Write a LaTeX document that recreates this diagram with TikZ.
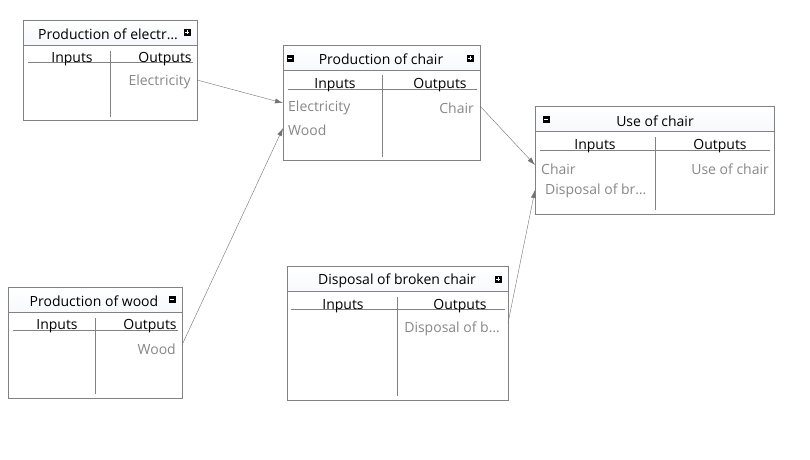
\documentclass[tikz,border=0pt]{standalone}
\usepackage{fontspec}
\setmainfont{Open Sans}
\usetikzlibrary{arrows.meta}

\definecolor{frame}{RGB}{130,130,130}
\definecolor{head}{RGB}{218,227,241}
\definecolor{item}{RGB}{135,135,135}
\definecolor{wire}{RGB}{115,115,115}

% small collapse / expand buttons in the box headers
\newcommand{\iconplus}[1]{%
  \fill (#1) +(-3.5,-3.5) rectangle +(3.5,3.5);
  \draw[white,line width=1pt] (#1) +(-2,0) -- +(2,0) +(0,-2) -- +(0,2);}
\newcommand{\iconminus}[1]{%
  \fill (#1) +(-3.5,-3.5) rectangle +(3.5,3.5);
  \draw[white,line width=1pt] (#1) +(-2,0) -- +(2,0);}

\tikzset{
  box/.style={draw=frame, anchor=north west, inner sep=0pt,
    path picture={
      \shade[top color=white, bottom color=head]
        (path picture bounding box.north west) rectangle
        ([yshift=-25pt]path picture bounding box.north east);
      \draw[frame] ([yshift=-25pt]path picture bounding box.north west) --
        ([yshift=-25pt]path picture bounding box.north east);}},
  headtext/.style={font=\fontsize{14}{16}\selectfont, text=black, inner sep=0pt, yshift=-1pt},
  colhead/.style={font=\fontsize{14}{16}\selectfont, text=black, inner sep=0pt, yshift=-2pt},
  entry/.style={font=\fontsize{14}{16}\selectfont, text=item, inner sep=0pt, yshift=-2pt},
  wire/.style={draw=wire, -{Latex[length=8pt,width=5pt]}}
}

\begin{document}
\begin{tikzpicture}[x=1pt, y=-1pt]
  \useasboundingbox (0,0) rectangle (810,459);

  % production of electricity
  \node[box, minimum width=174pt, minimum height=100pt] (pe) at (23,20) {};
  \node[headtext] (peT) at (108,33) {Production of electr…};
  \iconplus{187,32}
  \draw[frame] (110,51) -- (110,117);
  \draw[frame] (28,62) -- (193,62);
  \node[colhead] (peIn)  at (72,57)  {Inputs};
  \node[colhead] (peOut) at (165,57) {Outputs};
  \node[entry, anchor=east] (peO1) at (191,80) {Electricity};
  \coordinate (peP1) at (197,80);

  % production of chair
  \node[box, minimum width=197pt, minimum height=115pt] (pc) at (283,45) {};
  \node[headtext] (pcT) at (381,58) {Production of chair};
  \iconminus{290,58}
  \iconplus{470,58}
  \draw[frame] (382,75) -- (382,157);
  \draw[frame] (288,89) -- (477,89);
  \node[colhead] (pcIn)  at (335,83) {Inputs};
  \node[colhead] (pcOut) at (440,83) {Outputs};
  \node[entry, anchor=west] (pcI1) at (288,106) {Electricity};
  \node[entry, anchor=west] (pcI2) at (288,128) {Wood};
  \node[entry, anchor=east] (pcO1) at (474,106) {Chair};
  \coordinate (pcP1) at (283,103);
  \coordinate (pcP2) at (283,128);
  \coordinate (pcQ1) at (480,106);

  % use of chair
  \node[box, minimum width=239pt, minimum height=108pt] (uc) at (535,106) {};
  \node[headtext] (ucT) at (655,120) {Use of chair};
  \iconminus{546,119}
  \draw[frame] (655,137) -- (655,210);
  \draw[frame] (540,150) -- (770,150);
  \node[colhead] (ucIn)  at (595,144) {Inputs};
  \node[colhead] (ucOut) at (720,144) {Outputs};
  \node[entry, anchor=west] (ucI1) at (541,167) {Chair};
  \node[entry, anchor=west] (ucI2) at (545,189) {Disposal of br…};
  \node[entry, anchor=east] (ucO1) at (769,167) {Use of chair};
  \coordinate (ucP1) at (535,165);
  \coordinate (ucP2) at (535,190);

  % disposal of broken chair
  \node[box, minimum width=221pt, minimum height=134pt] (db) at (287,266) {};
  \node[headtext] (dbT) at (397,280) {Disposal of broken chair};
  \iconplus{498,279}
  \draw[frame] (397,297) -- (397,396);
  \draw[frame] (291,309) -- (505,309);
  \node[colhead] (dbIn)  at (343,304) {Inputs};
  \node[colhead] (dbOut) at (460,304) {Outputs};
  \node[entry, anchor=east] (dbO1) at (500,327) {Disposal of b…};
  \coordinate (dbQ1) at (508,323);

  % production of wood
  \node[box, minimum width=174pt, minimum height=111pt] (pw) at (8,287) {};
  \node[headtext] (pwT) at (94,300) {Production of wood};
  \iconminus{172,299}
  \draw[frame] (95,318) -- (95,394);
  \draw[frame] (13,330) -- (178,330);
  \node[colhead] (pwIn)  at (57,324)  {Inputs};
  \node[colhead] (pwOut) at (150,324) {Outputs};
  \node[entry, anchor=east] (pwO1) at (176,347) {Wood};
  \coordinate (pwQ1) at (182,345);

  % flows
  \draw[wire] (peP1) -- (pcP1);
  \draw[wire] (pwQ1) -- (pcP2);
  \draw[wire] (pcQ1) -- (ucP1);
  \draw[wire] (dbQ1) -- (ucP2);
\end{tikzpicture}
\end{document}
